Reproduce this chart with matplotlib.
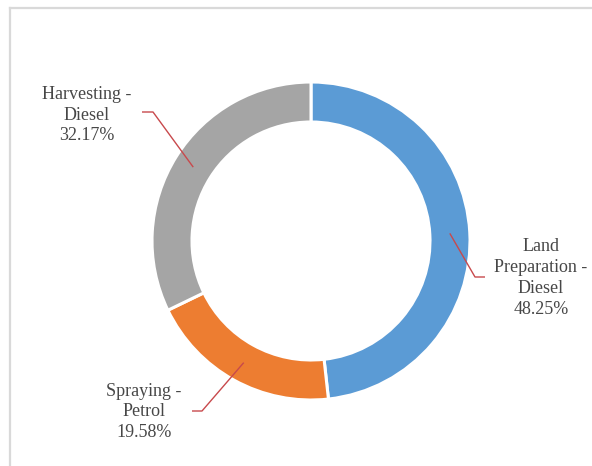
import matplotlib
matplotlib.use("Agg")
import matplotlib.pyplot as plt
import numpy as np
from matplotlib.lines import Line2D

categories = ["Land\nPreparation -\nDiesel", "Spraying -\nPetrol", "Harvesting -\nDiesel"]
values = [48.25, 19.58, 32.17]
colors = ["#5B9BD5", "#ED7D31", "#A5A5A5"]

W, H = 592, 466
fig = plt.figure(figsize=(W / 100, H / 100), dpi=100)
ax = fig.add_axes([0, 0, 1, 1])
ax.set_xlim(0, W)
ax.set_ylim(0, H)
ax.set_aspect("equal")
ax.axis("off")

cx, cy = 311, H - 241
R = 159
width = 40

wedges, _ = ax.pie(values, colors=colors, startangle=90, counterclock=False,
                   center=(cx, cy), radius=R,
                   wedgeprops=dict(width=width, edgecolor="white", linewidth=2.2),
                   frame=True)
ax.set_xlim(0, W)
ax.set_ylim(0, H)
ax.axis("off")

# label layout (pixel coords from top-left): bend point, end point, text center
layout = [
    ((475, 277), (485, 277), (541, 278)),
    ((202, 411), (192, 411), (144, 412)),
    ((153, 112), (142, 112), (87, 115)),
]
line_color = "#C8494C"
text_color = "#474747"
for w, v, lab, (bend, end, tc) in zip(wedges, values, categories, layout):
    ang = np.deg2rad((w.theta1 + w.theta2) / 2)
    r_anchor = R - width / 2
    ax_x = cx + r_anchor * np.cos(ang)
    ax_y = cy + r_anchor * np.sin(ang)
    xs = [ax_x, bend[0], end[0]]
    ys = [ax_y, H - bend[1], H - end[1]]
    ax.plot(xs, ys, color=line_color, lw=1.0, solid_capstyle="butt")
    ax.text(tc[0], H - tc[1], f"{lab}\n{v:.2f}%", ha="center", va="center",
            multialignment="center", fontsize=13, family="Liberation Serif",
            color=text_color, linespacing=1.3)

# chart-area border (top and left visible)
bc = "#D9D9D9"
fig.add_artist(Line2D([9.5 / W, 1], [1 - 7.5 / H, 1 - 7.5 / H], color=bc, lw=1.6, transform=fig.transFigure))
fig.add_artist(Line2D([9.5 / W, 9.5 / W], [0, 1 - 7.5 / H], color=bc, lw=1.6, transform=fig.transFigure))

fig.savefig("out.png", dpi=100)
